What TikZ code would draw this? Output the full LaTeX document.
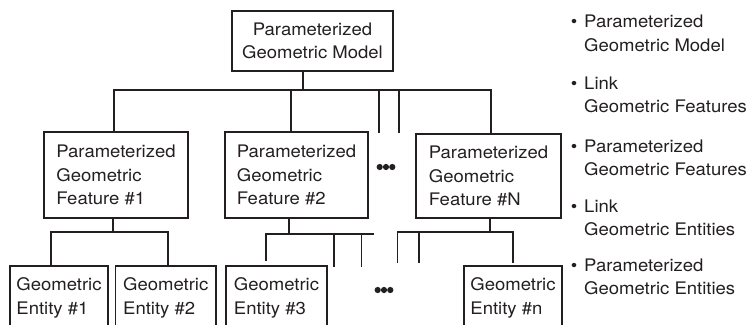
\documentclass[tikz,border=0pt]{standalone}
\usepackage{fontspec}
\setmainfont{TeX Gyre Heros}[FakeStretch=1.07]
\definecolor{ink}{RGB}{35,31,32}
\begin{document}
\begin{tikzpicture}[x=1pt,y=-1pt,
  every node/.style={font=\fontsize{17.3}{23.5}\selectfont, text=ink},
  box/.style={draw=ink, line width=1.7pt, inner sep=0pt},
  wire/.style={draw=ink, line width=1.7pt},
  lbl/.style={inner sep=0pt, align=left, anchor=north west},
  bul/.style={inner sep=0pt, anchor=base},
  dotr/.style={radius=3.1pt}]
\useasboundingbox (0,0) rectangle (749,324);

% model, features and entities
\node[box, minimum width=161, minimum height=60, align=center] (model) at (312.5,41) {Parameterized\\Geometric Model};
\node[box, minimum width=144, minimum height=86, align=left] (f1) at (116,175) {Parameterized\\Geometric\\Feature \#1};
\node[box, minimum width=143, minimum height=86, align=left] (f2) at (296.5,175) {Parameterized\\Geometric\\Feature \#2};
\node[box, minimum width=145, minimum height=84, align=left] (fN) at (488.5,176) {Parameterized\\Geometric\\Feature \#N};
\node[box, minimum width=98, minimum height=63.4, align=left] (e1) at (59,297.7) {Geometric\\Entity \#1};
\node[box, minimum width=100.5, minimum height=63.4, align=left] (e2) at (165.75,297.7) {Geometric\\Entity \#2};
\node[box, minimum width=101, minimum height=63.4, align=left] (e3) at (276.5,297.7) {Geometric\\Entity \#3};
\node[box, minimum width=98, minimum height=63.4, align=left] (eN) at (513,297.7) {Geometric\\Entity \#n};

% model -> features bus
\coordinate (tStem) at (303,90);
\coordinate (tL) at (114,90);
\coordinate (t2) at (291,90);
\coordinate (tR) at (491,90);
\coordinate (tS1) at (379,90);
\coordinate (tS1e) at (379,133);
\coordinate (tS2) at (399,90);
\coordinate (tS2e) at (399,133);
\draw[wire] (model.south -| tStem) -- (tStem);
\draw[wire] (f1.north -| tL) -- (tL) -- (tR) -- (fN.north -| tR);
\draw[wire] (t2) -- (f2.north -| t2);
\draw[wire] (tS1) -- (tS1e);
\draw[wire] (tS2) -- (tS2e);

% feature 1 -> entities 1, 2
\coordinate (a0) at (113,232);
\coordinate (aL) at (51,232);
\coordinate (aR) at (168,232);
\draw[wire] (f1.south -| a0) -- (a0);
\draw[wire] (e1.north -| aL) -- (aL) -- (aR) -- (e2.north -| aR);

% feature 2 -> entity 3 and more
\coordinate (b0) at (289,234);
\coordinate (bL) at (266,234);
\coordinate (bLe) at (266,261);
\coordinate (bR) at (374,234);
\coordinate (b1) at (334,234);
\coordinate (b1e) at (334,267);
\coordinate (b2) at (361.5,234);
\coordinate (b2e) at (361.5,267);
\draw[wire] (f2.south -| b0) -- (b0);
\draw[wire] (bLe) -- (bL) -- (bR);
\draw[wire] (b1) -- (b1e);
\draw[wire] (b2) -- (b2e);

% feature N -> entity n and more
\coordinate (c0) at (490,232);
\coordinate (cL) at (397.5,232);
\coordinate (cLe) at (397.5,263);
\coordinate (c1) at (419,232);
\coordinate (c1e) at (419,263);
\coordinate (cR) at (513,232);
\coordinate (cRe) at (513,263);
\draw[wire] (fN.south -| c0) -- (c0);
\draw[wire] (cLe) -- (cL) -- (cR) -- (cRe);
\draw[wire] (c1) -- (c1e);

% ellipses
\coordinate (dA) at (386,167);
\coordinate (dB) at (384,290);
\fill[ink, dotr] ([xshift=-6.3pt]dA) circle[] (dA) circle[] ([xshift=6.3pt]dA) circle[];
\fill[ink, dotr] ([xshift=-6.3pt]dB) circle[] (dB) circle[] ([xshift=6.3pt]dB) circle[];

% level legend
\node[bul] (k1b) at (574,27.5) {\textbullet};
\node[lbl] (k1) at (584,15) {Parameterized\\Geometric Model};
\node[bul] (k2b) at (574,89) {\textbullet};
\node[lbl] (k2) at (584,76.5) {Link\\Geometric Features};
\node[bul] (k3b) at (574,152) {\textbullet};
\node[lbl] (k3) at (584,139.5) {Parameterized\\Geometric Features};
\node[bul] (k4b) at (574,212) {\textbullet};
\node[lbl] (k4) at (584,199.5) {Link\\Geometric Entities};
\node[bul] (k5b) at (574,271) {\textbullet};
\node[lbl] (k5) at (584,258.5) {Parameterized\\Geometric Entities};
\end{tikzpicture}
\end{document}
